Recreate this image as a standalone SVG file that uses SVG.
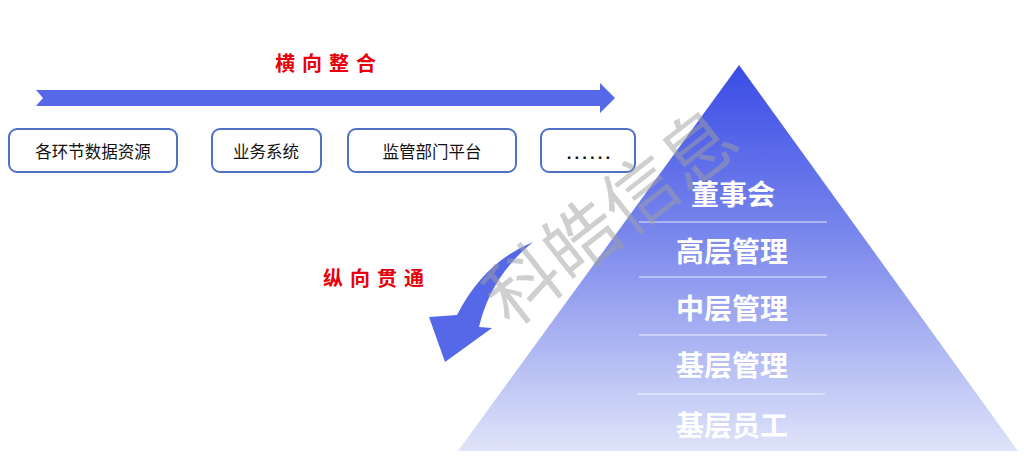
<svg xmlns="http://www.w3.org/2000/svg" width="1024" height="471" viewBox="0 0 1024 471">
<defs>
<linearGradient id="pg" x1="0" y1="0" x2="0" y2="1">
<stop offset="0" stop-color="#3a4ce6"/>
<stop offset="0.45" stop-color="#7b88ec"/>
<stop offset="1" stop-color="#dfe4f9"/>
</linearGradient>
<style>
.box{fill:#ffffff;stroke:#4f72c6;stroke-width:2}
.bt{font-family:"Noto Sans CJK SC",sans-serif;font-size:16.5px;fill:#111;text-anchor:middle;dominant-baseline:central}
.title{font-family:"Noto Sans CJK SC",sans-serif;font-size:20px;font-weight:bold;fill:#e8000b;letter-spacing:7px;dominant-baseline:central}
.pl{font-family:"Noto Sans CJK SC",sans-serif;font-size:28px;font-weight:bold;fill:#ffffff;text-anchor:middle;dominant-baseline:central}
.div{stroke:#ffffff;stroke-width:1;opacity:0.8}
.arr{fill:#5468e8}
</style>
</defs>
<rect width="1024" height="471" fill="#ffffff"/>

<g id="pyramid">
<polygon points="739,65 1018,451 458,451" fill="url(#pg)"/>
<line class="div" x1="639" y1="222" x2="827" y2="222"/>
<line class="div" x1="639" y1="277" x2="827" y2="277"/>
<line class="div" x1="639" y1="335" x2="827" y2="335"/>
<line class="div" x1="637" y1="394" x2="825" y2="394"/>
<text class="pl" x="733" y="193">董事会</text>
<text class="pl" x="732" y="250">高层管理</text>
<text class="pl" x="732" y="307">中层管理</text>
<text class="pl" x="732" y="364">基层管理</text>
<text class="pl" x="732" y="424">基层员工</text>
</g>

<g id="connectors">
<polygon class="arr" points="36,90 600,90 600,83 615,98 600,113 600,106 36,106 43,98"/>
<path class="arr" d="M533,242 Q484,262 457,315 L429,317 L445,362 L492,328 L479,327 Q491,276 533,242 Z"/>
</g>

<g id="title-h"><text class="title" x="275" y="62">横向整合</text></g>
<g id="title-v"><text class="title" x="323" y="277">纵向贯通</text></g>

<g id="box1"><rect class="box" x="9" y="129" width="168" height="43" rx="8"/><text class="bt" x="93" y="151">各环节数据资源</text></g>
<g id="box2"><rect class="box" x="212" y="129" width="109" height="43" rx="8"/><text class="bt" x="266" y="151">业务系统</text></g>
<g id="box3"><rect class="box" x="348" y="129" width="168" height="43" rx="8"/><text class="bt" x="432" y="151">监管部门平台</text></g>
<g id="box4"><rect class="box" x="541" y="129" width="94" height="43" rx="8"/><text x="590" y="159" font-family="Liberation Sans, sans-serif" font-size="17" font-weight="bold" fill="#111" letter-spacing="3" text-anchor="middle">......</text></g>

<g id="watermark"><text x="607" y="212" transform="rotate(-38 607 212)" font-family="Noto Sans CJK SC, sans-serif" font-size="74" font-weight="400" fill="#a0a0a0" opacity="0.5" text-anchor="middle" dominant-baseline="central">科皓信息</text></g>
</svg>
